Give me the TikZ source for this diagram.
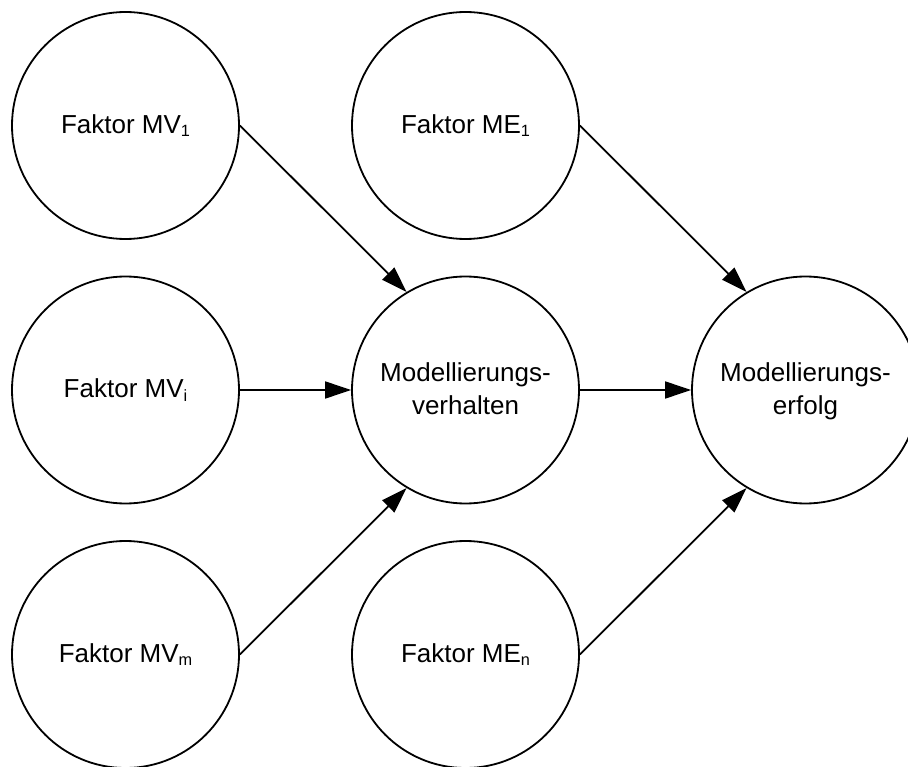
\documentclass[tikz,border=0pt]{standalone}
\usepackage{fontspec}
\setmainfont{Liberation Sans}
\usetikzlibrary{arrows.meta}

% lowered, smaller index after a factor name
\newcommand\idx[1]{\raisebox{-3.4pt}{\fontsize{16.3}{16}\selectfont #1}}

\begin{document}
\begin{tikzpicture}[x=1pt,y=-1pt,
    factor/.style={circle, draw, line width=1.8pt, minimum size=227pt,
      inner sep=0pt, font=\fontsize{26}{33}\selectfont,
      text height=18.6pt, text depth=2.6pt},
    outcome/.style={factor, align=center, text height=51.6pt, text depth=2.6pt},
    link/.style={line width=1.8pt, -{Triangle[length=26pt,width=17pt]}}]
  \useasboundingbox (0,0) rectangle (908,767);

  % influencing factors, left column
  \node[factor] (mv1) at (125.5,125.5) {Faktor MV\idx{1}};
  \node[factor] (mvi) at (125.5,390)   {Faktor MV\idx{i}};
  \node[factor] (mvm) at (125.5,654.5) {Faktor MV\idx{m}};

  % middle column
  \node[factor]  (me1)  at (465.5,125.5) {Faktor ME\idx{1}};
  \node[outcome] (verh) at (465.5,390)   {Modellierungs-\\verhalten};
  \node[factor]  (men)  at (465.5,654.5) {Faktor ME\idx{n}};

  % final outcome
  \node[outcome] (erf) at (805.5,390) {Modellierungs-\\erfolg};

  % effects
  \draw[link] (mv1.east) -- (verh.121);
  \draw[link] (mvi.east) -- (verh.west);
  \draw[link] (mvm.east) -- (verh.239);
  \draw[link] (me1.east) -- (erf.121);
  \draw[link] (verh.east) -- (erf.west);
  \draw[link] (men.east) -- (erf.239);
\end{tikzpicture}
\end{document}
